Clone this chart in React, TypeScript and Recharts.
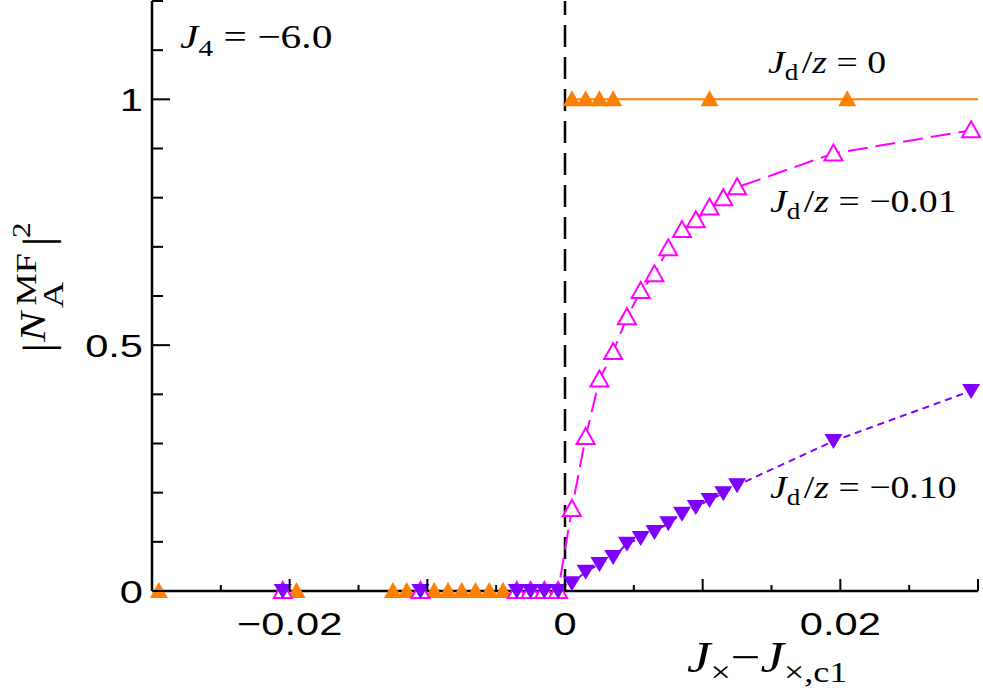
import { ComposedChart, Line, XAxis, YAxis, ReferenceLine } from "recharts";

const ORANGE = "#ff8000";
const MAGENTA = "#ff00ff";
const PURPLE = "#8000ff";
const SERIF = "'Liberation Serif', 'Times New Roman', serif";
const SANS = "'Liberation Sans', Arial, sans-serif";

const X_MIN = -0.03;
const X_MAX = 0.03;
const Y_MAX = 1.2;

const xTicks = [-0.03, -0.025, -0.02, -0.015, -0.01, -0.005, 0, 0.005, 0.01, 0.015, 0.02, 0.025, 0.03];
const xTickLabels = ["−0.02", "0", "0.02"];
const xLabelAt = [-0.02, 0, 0.02];
const yTicks = [0, 0.1, 0.2, 0.3, 0.4, 0.5, 0.6, 0.7, 0.8, 0.9, 1, 1.1, 1.2];
const yTickLabels = ["0", "0.5", "1"];
const yLabelAt = [0, 0.5, 1];

// J_d/z = 0 (two branches)
const orangeLowX = [-0.0295, -0.0195, -0.0125, -0.0115, -0.0105, -0.0095, -0.0085, -0.0075, -0.0065, -0.0055, -0.0045];
const orangeLowY = [0, 0, 0, 0, 0, 0, 0, 0, 0, 0, 0];
const orangeHighX = [0.0005, 0.0015, 0.0025, 0.0035, 0.0105, 0.0205];
const orangeHighY = [1, 1, 1, 1, 1, 1];

// J_d/z = -0.01
const magentaX = [-0.0205, -0.0105, -0.0035, -0.0025, -0.0015, -0.0005, 0.0005, 0.0015, 0.0025, 0.0035, 0.0045, 0.0055, 0.0065, 0.0075, 0.0085, 0.0095, 0.0105, 0.0115, 0.0125, 0.0195, 0.0295];
const magentaY = [0, 0, 0, 0, 0, 0, 0.167, 0.313, 0.43, 0.486, 0.557, 0.61, 0.644, 0.697, 0.734, 0.754, 0.78, 0.799, 0.821, 0.89, 0.937];

// J_d/z = -0.10
const purpleX = [-0.0205, -0.0105, -0.0035, -0.0025, -0.0015, -0.0005, 0.0005, 0.0015, 0.0025, 0.0035, 0.0045, 0.0055, 0.0065, 0.0075, 0.0085, 0.0095, 0.0105, 0.0115, 0.0125, 0.0195, 0.0295];
const purpleY = [0, 0, 0, 0, 0, 0, 0.016, 0.039, 0.055, 0.069, 0.096, 0.108, 0.12, 0.138, 0.157, 0.171, 0.185, 0.199, 0.215, 0.305, 0.407];

const pts = (xs: number[], ys: number[]) => xs.map((x, i) => ({ x, y: ys[i] }));

const orangeLow = pts(orangeLowX, orangeLowY);
const orangeHigh = pts(orangeHighX, orangeHighY);
const magenta = pts(magentaX, magentaY);
const purple = pts(purpleX, purpleY);

const orangeLowLine = [{ x: X_MIN, y: 0 }, ...orangeLow];
const orangeHighLine = [...orangeHigh, { x: X_MAX, y: 1 }];
const magentaLine = [{ x: X_MIN, y: 0 }, ...magenta];
const purpleLine = [{ x: X_MIN, y: 0 }, ...purple];

const near = (a: number, b: number) => Math.abs(a - b) < 1e-9;

function triUp(fill: string, stroke: string) {
  return (p: any) => {
    const { cx, cy, index } = p;
    if (cx == null || cy == null) return <g key={index} />;
    return (
      <path
        key={index}
        d={`M${cx},${cy - 9}L${cx + 9},${cy + 7}L${cx - 9},${cy + 7}Z`}
        fill={fill}
        stroke={stroke}
        strokeWidth={2}
      />
    );
  };
}

function triDown(fill: string) {
  return (p: any) => {
    const { cx, cy, index } = p;
    if (cx == null || cy == null) return <g key={index} />;
    return <path key={index} d={`M${cx - 9},${cy - 7}L${cx + 9},${cy - 7}L${cx},${cy + 8}Z`} fill={fill} />;
  };
}

const isMajorX = (v: number) => near(Math.round(v * 100), v * 100);
const isMajorY = (v: number) => near(Math.round(v * 2), v * 2);

function BottomTick(p: any) {
  const { x, y, payload } = p;
  const v = payload.value;
  const len = isMajorX(v) ? 12 : 6;
  const li = xLabelAt.findIndex((a) => near(a, v));
  return (
    <g>
      <line x1={x} x2={x} y1={y} y2={y - len} stroke="#000" strokeWidth={2} />
      {li >= 0 && (
        <text transform={`translate(${x},${y + 44}) scale(1.3,1)`} textAnchor="middle" fontFamily={SANS} fontSize={32} fill="#000">
          {xTickLabels[li]}
        </text>
      )}
    </g>
  );
}

function TopTick(p: any) {
  const { x, y, payload } = p;
  const len = isMajorX(payload.value) ? 12 : 6;
  return <line x1={x} x2={x} y1={y} y2={y + len} stroke="#000" strokeWidth={2} />;
}

function LeftTick(p: any) {
  const { x, y, payload } = p;
  const v = payload.value;
  const len = isMajorY(v) ? 18 : 11;
  const li = yLabelAt.findIndex((a) => near(a, v));
  return (
    <g>
      <line x1={x} x2={x + len} y1={y} y2={y} stroke="#000" strokeWidth={2} />
      {li >= 0 && (
        <text transform={`translate(${x - 9},${y + 12}) scale(1.3,1)`} textAnchor="end" fontFamily={SANS} fontSize={32} fill="#000">
          {yTickLabels[li]}
        </text>
      )}
    </g>
  );
}

function RightTick(p: any) {
  const { x, y, payload } = p;
  const len = isMajorY(payload.value) ? 18 : 11;
  return <line x1={x} x2={x - len} y1={y} y2={y} stroke="#000" strokeWidth={2} />;
}

function JdLabel({ x, y, value }: { x: number; y: number; value: string }) {
  return (
    <text transform={`translate(${x},${y}) scale(1.18,1)`} fontFamily={SERIF} fontSize={32} fill="#000" style={{ whiteSpace: "pre" }}>
      <tspan fontStyle="italic">J</tspan>
      <tspan fontSize={23} dy={7}>d</tspan>
      <tspan dy={-7} dx={3}>/</tspan>
      <tspan fontStyle="italic">z</tspan>
      <tspan>{" = " + value}</tspan>
    </text>
  );
}

function Overlay() {
  return (
    <svg width={983} height={693} style={{ position: "absolute", left: 0, top: 0, pointerEvents: "none" }}>
      <text transform="translate(180,48) scale(1.22,1)" fontFamily={SERIF} fontSize={34} fill="#000" style={{ whiteSpace: "pre" }}>
        <tspan fontStyle="italic">J</tspan>
        <tspan fontSize={24} dy={8}>4</tspan>
        <tspan dy={-8}>{" = −6.0"}</tspan>
      </text>
      <JdLabel x={768} y={73} value="0" />
      <JdLabel x={770} y={212} value="−0.01" />
      <JdLabel x={770} y={498} value="−0.10" />

      <text transform="translate(687,672) scale(1.2,1)" fontFamily={SERIF} fontSize={44} fill="#000" style={{ whiteSpace: "pre" }}>
        <tspan fontStyle="italic">J</tspan>
        <tspan fontSize={30} dy={10}>×</tspan>
        <tspan dy={-10}>−</tspan>
        <tspan fontStyle="italic">J</tspan>
        <tspan fontSize={30} dy={10}>×,c1</tspan>
      </text>

      <g transform="translate(45,353) rotate(-90) scale(1.25,1)" fontFamily={SERIF} fill="#000">
        <text x={0} y={7} fontSize={42}>|</text>
        <text x={9} y={0} fontSize={36} fontStyle="italic">N</text>
        <text x={36} y={18} fontSize={29}>A</text>
        <text x={38} y={-9} fontSize={29}>MF</text>
        <text x={85} y={7} fontSize={42}>|</text>
        <text x={92} y={-15} fontSize={25}>2</text>
      </g>
    </svg>
  );
}

export default function App() {
  return (
    <div style={{ position: "absolute", left: 0, top: 0, width: 983, height: 693, background: "#fff" }}>
      <ComposedChart width={983} height={693} margin={{ top: 1, right: 5, bottom: 0, left: 0 }}>
        <XAxis
          dataKey="x"
          type="number"
          domain={[X_MIN, X_MAX]}
          ticks={xTicks}
          interval={0}
          height={102}
          tickSize={0}
          tickMargin={0}
          tickLine={false}
          axisLine={{ stroke: "#000", strokeWidth: 2.5 }}
          tick={BottomTick}
        />
        <XAxis
          xAxisId="top"
          orientation="top"
          dataKey="x"
          type="number"
          domain={[X_MIN, X_MAX]}
          ticks={xTicks}
          interval={0}
          height={0}
          tickSize={0}
          tickMargin={0}
          tickLine={false}
          axisLine={{ stroke: "#000", strokeWidth: 2.5 }}
          tick={TopTick}
        />
        <YAxis
          type="number"
          domain={[0, Y_MAX]}
          ticks={yTicks}
          interval={0}
          width={152}
          tickSize={0}
          tickMargin={0}
          tickLine={false}
          axisLine={{ stroke: "#000", strokeWidth: 2.5 }}
          tick={LeftTick}
        />
        <YAxis
          yAxisId="right"
          orientation="right"
          type="number"
          domain={[0, Y_MAX]}
          ticks={yTicks}
          interval={0}
          width={0}
          tickSize={0}
          tickMargin={0}
          tickLine={false}
          axisLine={{ stroke: "#000", strokeWidth: 2.5 }}
          tick={RightTick}
        />
        <ReferenceLine x={0} stroke="#000" strokeWidth={2.5} strokeDasharray="22 10" />

        <Line data={orangeLowLine} dataKey="y" stroke={ORANGE} strokeWidth={2} dot={false} isAnimationActive={false} />
        <Line data={orangeHighLine} dataKey="y" stroke={ORANGE} strokeWidth={2} dot={false} isAnimationActive={false} />
        <Line data={orangeLow} dataKey="y" stroke="none" dot={triUp(ORANGE, "none")} isAnimationActive={false} />
        <Line data={orangeHigh} dataKey="y" stroke="none" dot={triUp(ORANGE, "none")} isAnimationActive={false} />

        <Line data={magentaLine} dataKey="y" stroke={MAGENTA} strokeWidth={2} strokeDasharray="20 8" dot={false} isAnimationActive={false} />
        <Line data={magenta} dataKey="y" stroke="none" dot={triUp("#fff", MAGENTA)} isAnimationActive={false} />

        <Line data={purpleLine} dataKey="y" stroke={PURPLE} strokeWidth={2} strokeDasharray="7 5" dot={false} isAnimationActive={false} />
        <Line data={purple} dataKey="y" stroke="none" dot={triDown(PURPLE)} isAnimationActive={false} />
      </ComposedChart>
      <Overlay />
    </div>
  );
}
